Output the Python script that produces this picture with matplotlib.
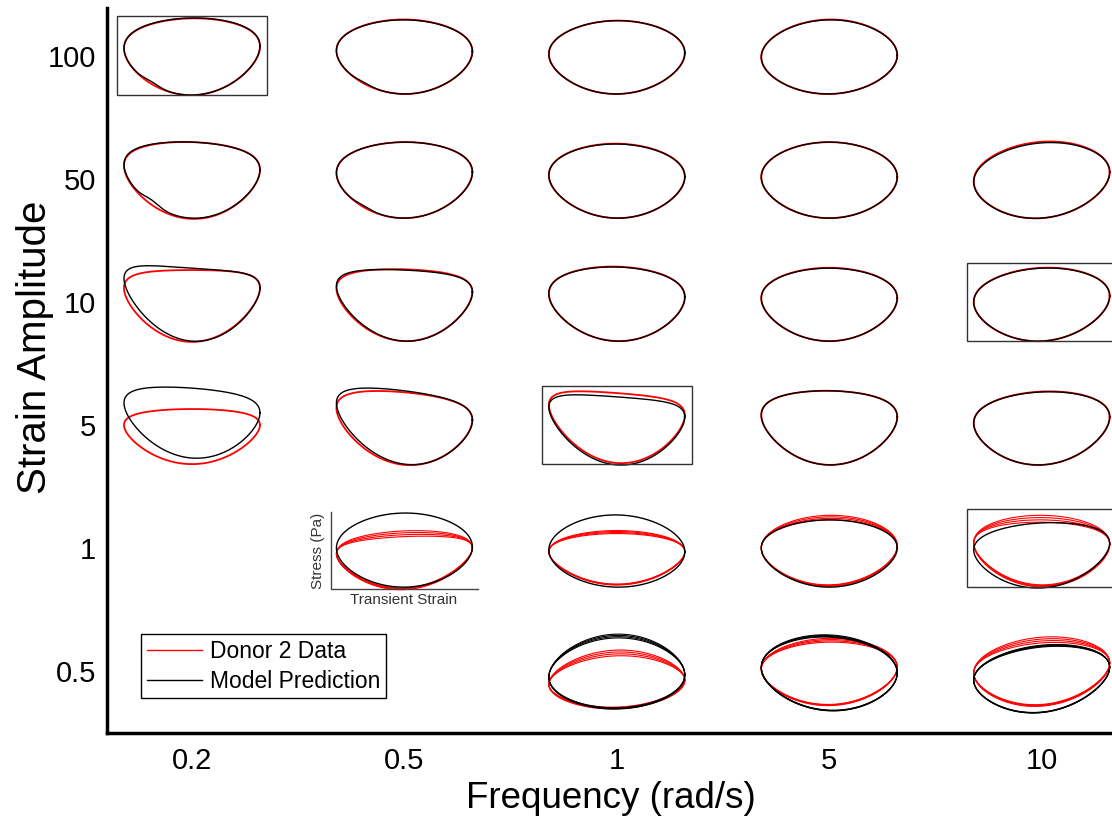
import numpy as np
import matplotlib.pyplot as plt
from matplotlib.lines import Line2D
from matplotlib.patches import Rectangle

plt.rcParams['font.family'] = ['Liberation Sans', 'DejaVu Sans']

freq_labels = ['0.2', '0.5', '1', '5', '10']
amp_labels = ['100', '50', '10', '5', '1', '0.5']

# grid cell of every loop (row = strain amplitude, col = frequency)
cell_row = [0, 0, 0, 0, 1, 1, 1, 1, 1, 2, 2, 2, 2, 2, 3, 3, 3, 3, 3, 4, 4, 4, 4, 5, 5, 5]
cell_col = [0, 1, 2, 3, 0, 1, 2, 3, 4, 0, 1, 2, 3, 4, 0, 1, 2, 3, 4, 1, 2, 3, 4, 2, 3, 4]

# normalised stress: top, bottom, at min strain, at max strain
model_top = [1.00, 0.95, 0.93, 0.95, 0.97, 0.97, 0.92, 0.97, 0.95, 0.89, 0.84, 0.92, 0.89,
             0.89, 0.97, 0.90, 0.74, 0.90, 0.87, 0.92, 0.87, 0.74, 0.66, 0.87, 0.89, 0.63]
model_bot = [-1.03, -1.00, -1.00, -1.00, -1.03, -1.03, -1.03, -1.03, -1.03, -1.03, -1.03, -1.03, -1.03,
             -1.03, -0.87, -1.03, -1.05, -1.05, -1.05, -1.03, -1.03, -1.03, -1.05, -0.97, -1.03, -1.08]
model_left = [0.21, 0.14, 0.05, -0.03, 0.38, 0.16, 0.10, 0.05, -0.08, 0.62, 0.42, 0.22, 0.10,
              0.00, 0.58, 0.58, 0.47, 0.26, 0.05, 0.00, -0.05, 0.00, -0.05, -0.16, 0.10, -0.24]
model_right = [0.26, 0.12, 0.08, 0.02, 0.24, 0.18, 0.06, 0.05, 0.18, 0.37, 0.26, 0.13, 0.10,
               0.16, 0.32, 0.13, 0.21, 0.21, 0.21, 0.03, -0.10, 0.00, 0.13, -0.10, -0.05, 0.10]
model_kink = [0.06, 0.03, 0, 0, 0.10, 0.04, 0, 0, 0, 0, 0, 0, 0,
              0, 0, 0, 0, 0, 0, 0, 0, 0, 0, 0, 0, 0]
model_spread = [0, 0, 0, 0, 0, 0, 0, 0, 0, 0, 0, 0, 0,
                0, 0, 0, 0, 0, 0, 0, 0, 0, 0, 0.10, 0.06, 0.05]

data_top = [0.99, 0.96, 0.93, 0.96, 0.97, 0.97, 0.93, 0.97, 0.98, 0.84, 0.86, 0.93, 0.90,
            0.90, 0.42, 0.86, 0.84, 0.90, 0.88, 0.30, 0.38, 0.74, 0.68, 0.40, 0.76, 0.74]
data_bot = [-1.03, -1.00, -1.00, -1.00, -1.05, -1.03, -1.03, -1.03, -1.03, -1.05, -1.03, -1.03, -1.03,
            -1.03, -1.03, -1.05, -1.00, -1.05, -1.05, -1.05, -0.95, -0.97, -0.97, -0.95, -0.88, -0.88]
data_left = [0.20, 0.14, 0.05, -0.03, 0.35, 0.16, 0.10, 0.05, -0.06, 0.37, 0.36, 0.22, 0.10,
             0.00, 0.00, 0.45, 0.53, 0.26, 0.05, -0.15, -0.10, 0.00, 0.13, -0.35, 0.05, -0.05]
data_right = [0.25, 0.12, 0.08, 0.02, 0.24, 0.18, 0.06, 0.05, 0.18, 0.37, 0.26, 0.13, 0.10,
              0.16, 0.00, 0.13, 0.26, 0.21, 0.21, 0.00, -0.10, 0.05, 0.10, -0.24, 0.10, 0.21]
data_spread = [0, 0, 0, 0, 0, 0, 0, 0, 0, 0, 0, 0, 0,
               0, 0, 0, 0, 0, 0, 0.15, 0.08, 0.12, 0.18, 0.15, 0.10, 0.15]

boxed_row = [0, 2, 3, 4]
boxed_col = [0, 4, 2, 4]

X_UNIT = 0.32   # half loop width, in columns
Y_UNIT = 0.309  # one stress unit, in rows
t = np.linspace(0, 2 * np.pi, 500)


def loop(top, bot, left, right, kink=0.0, sq=-0.02):
    b1 = (right - left) / 2
    p = (right + left) / 2
    q = (top + bot) / 2
    c = (p + q) / 2
    b2 = (p - q) / 2
    a1 = (top - bot) / 2 + sq
    x = np.cos(t)
    y = a1 * np.sin(t) + b1 * np.cos(t) + b2 * np.cos(2 * t) + c + sq * np.sin(3 * t)
    y = y + kink * np.exp(-((t - 4.07) / 0.2) ** 2)
    return x, y


def draw(ax, r, c, top, bot, left, right, kink, spread, color, lw, z):
    n = 1 if spread == 0 else 4
    for k in range(n):
        f = 0 if n == 1 else k / (n - 1)
        x, y = loop(top + spread * f, bot - 0.3 * spread * f, left, right, kink)
        ax.plot(c + X_UNIT * x, r - Y_UNIT * y, color=color, lw=lw if n == 1 else 0.8, zorder=z)


fig = plt.figure(figsize=(11.12, 8.18), dpi=100)
ax = fig.add_axes([107 / 1112, 85 / 818, 1005 / 1112, 725 / 818])
ax.set_xlim(-0.400, 4.331)
ax.set_ylim(5.504, -0.390)

for i in range(len(cell_row)):
    r, c = cell_row[i], cell_col[i]
    draw(ax, r, c, data_top[i], data_bot[i], data_left[i], data_right[i], 0,
         data_spread[i], 'red', 1.3, 2)
    draw(ax, r, c, model_top[i], model_bot[i], model_left[i], model_right[i], model_kink[i],
         model_spread[i], 'black', 1.0, 3)

for r, c in zip(boxed_row, boxed_col):
    ax.add_patch(Rectangle((c - 0.352, r - 0.321), 0.704, 0.642, fill=False,
                           edgecolor='#333333', lw=1.0, zorder=4))

# small axes sketch on the 1 / 0.5 loop
ir, ic = 4, 1
ax.plot([ic - 0.346, ic - 0.346, ic + 0.346], [ir - 0.293, ir + 0.333, ir + 0.333],
        color='#444444', lw=1.0, zorder=4)
ax.text(ic - 0.405, ir + 0.02, 'Stress (Pa)', rotation=90, ha='center', va='center',
        fontsize=11, color='#333333')
ax.text(ic - 0.005, ir + 0.425, 'Transient Strain', ha='center', va='center',
        fontsize=11, color='#333333')

ax.set_xticks(range(len(freq_labels)), freq_labels, fontsize=21)
ax.set_yticks(range(len(amp_labels)), amp_labels, fontsize=21)
ax.tick_params(axis='x', length=0, pad=10)
ax.tick_params(axis='y', length=0, pad=8)
for s in ['top', 'right']:
    ax.spines[s].set_visible(False)
for s in ['left', 'bottom']:
    ax.spines[s].set_linewidth(2.5)

ax.set_xlabel('Frequency (rad/s)', fontsize=26.5)
ax.xaxis.set_label_coords(0.5015, -0.066)
ax.set_ylabel('Strain Amplitude', fontsize=29)
ax.yaxis.set_label_coords(-0.053, 0.532)

handles = [Line2D([], [], color='red', lw=1.0), Line2D([], [], color='black', lw=1.0)]
leg = fig.legend(handles, ['Donor 2 Data', 'Model Prediction'], loc='upper left',
                 bbox_to_anchor=(141 / 1112, 1 - 634 / 818), fontsize=16.5, fancybox=False,
                 edgecolor='black', framealpha=1, handlelength=2.4, handletextpad=0.35,
                 borderpad=0.25, labelspacing=0.3, borderaxespad=0)
leg.get_frame().set_linewidth(1.0)

fig.savefig('out.png', dpi=100)
